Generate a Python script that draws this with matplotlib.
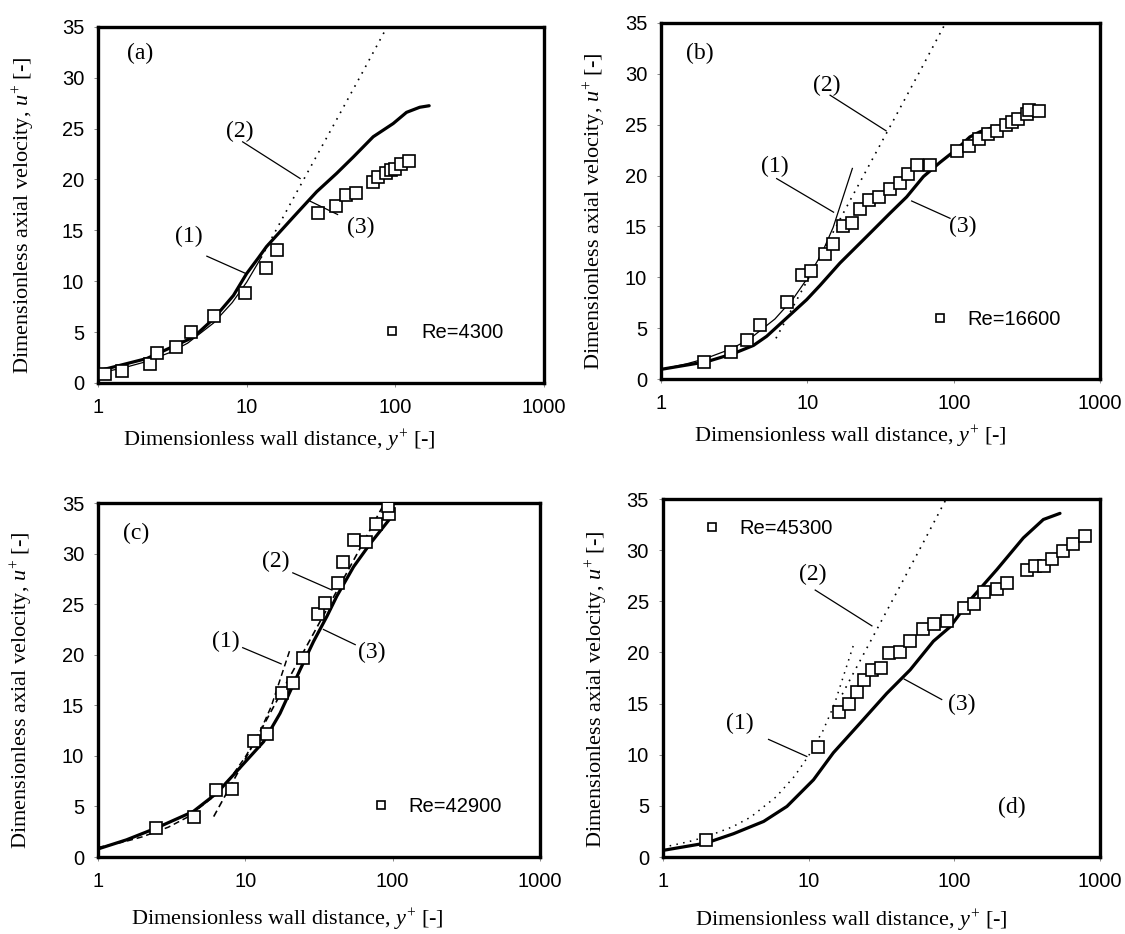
import matplotlib
matplotlib.use('Agg')
import matplotlib.pyplot as plt

plt.rcParams['font.family'] = ['Liberation Sans', 'DejaVu Sans']
plt.rcParams['mathtext.fontset'] = 'custom'
plt.rcParams['mathtext.rm'] = 'Liberation Serif'
plt.rcParams['mathtext.it'] = 'Liberation Serif:italic'

SERIF = 'Liberation Serif'

x_ticks = [1, 10, 100, 1000]
x_tick_labels = ['1', '10', '100', '1000']
y_ticks = [0, 5, 10, 15, 20, 25, 30, 35]

# (1) viscous sublayer
visc_y = [1, 1.5, 2, 3, 4, 6, 8, 10, 12.5, 15, 20.3]
visc_u = [0.95, 1.5, 2.0, 2.95, 3.9, 5.9, 7.9, 9.9, 12.3, 14.9, 20.7]

# (2) log-law line (straight on the semilog axes)
loglaw_y = [6.1, 10, 12.5, 17, 20, 40, 60, 88]
loglaw_u = [4.0, 9.7, 12.3, 15.9, 17.8, 25.8, 30.5, 35.0]

# (a) Re=4300
a_exp_y = [1.11, 1.45, 2.25, 2.49, 3.36, 4.24, 6.05, 9.81, 13.4, 16.0, 30.0, 39.9,
           46.5, 54.3, 70.3, 76.8, 86.3, 94.3, 99.3, 110, 123]
a_exp_u = [0.92, 1.18, 1.9, 2.9, 3.54, 5.0, 6.56, 8.89, 11.25, 13.05, 16.66, 17.4,
           18.5, 18.7, 19.8, 20.26, 20.6, 20.9, 21.0, 21.5, 21.8]
a_sim_y = [1, 2.13, 4.39, 5.98, 8.15, 10, 12, 13.6, 20.6, 29.6, 40.3, 52.1, 71.0, 96.8, 119, 146, 169]
a_sim_u = [1.18, 2.4, 4.5, 6.3, 8.6, 10.75, 12.3, 13.4, 16.3, 18.8, 20.6, 22.2, 24.2, 25.5, 26.6, 27.1, 27.25]

# (b) Re=16600
b_exp_y = [1.98, 2.99, 3.87, 4.77, 7.3, 9.2, 10.6, 13.1, 14.9, 17.4, 20.3, 23.0, 26.4, 31.0,
           36.9, 43.0, 49.0, 56.5, 68.9, 106, 127, 149, 171, 197, 227, 252, 277, 319, 327, 383]
b_exp_u = [1.70, 2.62, 3.83, 5.30, 7.6, 10.2, 10.6, 12.3, 13.3, 15.0, 15.3, 16.7, 17.6, 17.9,
           18.7, 19.3, 20.2, 21.0, 21.0, 22.4, 22.9, 23.6, 24.1, 24.4, 24.95, 25.3, 25.6, 26.1, 26.4, 26.3]
b_sim_y = [1, 2.05, 3.12, 4.28, 5.27, 7.22, 9.89, 12.2, 16.7, 25.4, 36.7, 47.7, 62.1, 80.7, 105, 129, 151, 197]
b_sim_u = [0.95, 1.7, 2.5, 3.3, 4.2, 6.0, 7.8, 9.2, 11.4, 14.0, 16.3, 17.9, 19.9, 21.3, 22.6, 23.8, 24.3, 24.85]

# (c) Re=42900
c_exp_y = [2.49, 4.50, 6.29, 8.16, 11.4, 14.0, 17.7, 21.2, 24.8, 31.0, 34.8, 42.5, 45.9,
           54.9, 65.9, 77.1, 94.9, 93.0]
c_exp_u = [2.87, 3.96, 6.59, 6.76, 11.5, 12.2, 16.2, 17.2, 19.7, 24.0, 25.1, 27.1, 29.2,
           31.3, 31.15, 32.96, 33.9, 34.7]
c_sim_y = [1, 1.56, 2.49, 4.43, 6.38, 8.28, 13.3, 17.2, 23.5, 29.0, 35.8, 41.8, 54.3, 70.5, 96.4]
c_sim_u = [0.8, 1.7, 2.87, 4.5, 6.3, 8.1, 11.4, 14.2, 18.5, 21.3, 23.8, 25.8, 28.7, 31.0, 33.5]

# (d) Re=45300
d_exp_y = [1.98, 11.6, 16.2, 18.8, 21.6, 24.1, 27.3, 31.5, 35.9, 42.5, 49.7, 61.1, 73.1,
           88.8, 117, 137, 161, 198, 229, 318, 358, 415, 471, 561, 656, 789]
d_exp_u = [1.69, 10.8, 14.2, 15.0, 16.1, 17.3, 18.3, 18.5, 19.9, 20.0, 21.1, 22.3, 22.8,
           23.1, 24.3, 24.7, 25.9, 26.2, 26.8, 28.1, 28.5, 28.5, 29.1, 29.9, 30.6, 31.4]
d_sim_y = [1, 1.98, 3.05, 4.91, 7.1, 10.8, 14.8, 22.6, 34.4, 49.8, 71.9, 93.6, 128, 196, 298, 409, 532]
d_sim_u = [0.65, 1.37, 2.28, 3.48, 4.95, 7.55, 10.2, 13.1, 16.0, 18.3, 21.1, 22.5, 25.1, 28.1, 31.2, 33.0, 33.6]

DOT = (0, (1, 3.5))
DASH = (0, (4, 2.5))


def setup_axes(ax, xlab_xy, ylab_x):
    ax.set_xscale('log')
    ax.set_xlim(1, 1000)
    ax.set_ylim(0, 35)
    ax.set_xticks(x_ticks)
    ax.set_xticklabels(x_tick_labels)
    ax.xaxis.set_minor_locator(matplotlib.ticker.NullLocator())
    ax.set_yticks(y_ticks)
    ax.tick_params(axis='both', labelsize=14.5, length=3, width=0.6, color='#777777')
    ax.tick_params(axis='x', pad=8)
    ax.tick_params(axis='y', pad=7)
    for sp in ax.spines.values():
        sp.set_linewidth(2.4)
    ax.set_xlabel('Dimensionless wall distance, $y^{+}$ [-]', family=SERIF, fontsize=16)
    ax.set_ylabel('Dimensionless axial velocity, $u^{+}$ [-]', family=SERIF, fontsize=16)
    ax.xaxis.set_label_coords(*xlab_xy)
    ax.yaxis.set_label_coords(ylab_x, 0.47)


def pointer(ax, label, text_xy, start, end):
    ax.text(text_xy[0], text_xy[1], label, family=SERIF, fontsize=17, ha='center', va='center')
    ax.plot([start[0], end[0]], [start[1], end[1]], color='black', lw=0.9)


def draw_panel(ax, exp_y, exp_u, sim_y, sim_u, visc_n, law_start, style1, style2, re_text, leg_xy, leg_pad):
    lw1 = 0.9 if style1 == '-' else 1.1
    ax.plot(visc_y[:visc_n], visc_u[:visc_n], color='black', lw=lw1, linestyle=style1, zorder=2)
    ax.plot(loglaw_y[law_start:], loglaw_u[law_start:], color='black', lw=1.2, linestyle=style2, zorder=2)
    ax.plot(sim_y, sim_u, color='black', lw=2.3, zorder=3, solid_capstyle='round')
    h, = ax.plot(exp_y, exp_u, linestyle='none', marker='s', markersize=8, markerfacecolor='white',
                 markeredgecolor='black', markeredgewidth=1.2, zorder=4)
    ax.legend([h], [re_text], loc='center left', bbox_to_anchor=leg_xy, frameon=False,
              borderpad=0, borderaxespad=0, handlelength=1.0, handletextpad=leg_pad,
              markerscale=0.8, prop={'family': 'Liberation Sans', 'size': 14.5})


def panel_tag(ax, x, y, tag):
    ax.text(x, y, tag, family=SERIF, fontsize=17, ha='center', va='center')


fig = plt.figure(figsize=(11.25, 9.34), dpi=100)
ax_a = fig.add_axes([0.0871, 0.590, 0.3964, 0.3812])
ax_b = fig.add_axes([0.5876, 0.5942, 0.3902, 0.3812])
ax_c = fig.add_axes([0.0871, 0.0824, 0.3929, 0.3790])
ax_d = fig.add_axes([0.5893, 0.0824, 0.3884, 0.3833])

# (a)
setup_axes(ax_a, (0.407, -0.126), -0.137)
draw_panel(ax_a, a_exp_y, a_exp_u, a_sim_y, a_sim_u, 9, 2, '-', DOT, 'Re=4300', (0.637, 0.141), 0.95)
panel_tag(ax_a, 1.92, 32.4, '(a)')
pointer(ax_a, '(2)', (9.03, 24.7), (9.4, 23.7), (22.9, 20.1))
pointer(ax_a, '(1)', (4.06, 14.4), (5.4, 12.46), (9.9, 10.75))
pointer(ax_a, '(3)', (58.7, 15.3), (40.9, 16.56), (26.7, 17.87))

# (b)
setup_axes(ax_b, (0.43, -0.126), -0.121)
draw_panel(ax_b, b_exp_y, b_exp_u, b_sim_y, b_sim_u, 11, 0, '-', DOT, 'Re=16600', (0.613, 0.166), 0.85)
panel_tag(ax_b, 1.85, 32.0, '(b)')
pointer(ax_b, '(2)', (13.6, 28.9), (14.3, 27.9), (34.5, 24.4))
pointer(ax_b, '(1)', (5.95, 20.9), (6.17, 19.7), (15.1, 16.4))
pointer(ax_b, '(3)', (116, 15.0), (94.4, 15.8), (51.6, 17.5))

# (c)
setup_axes(ax_c, (0.428, -0.141), -0.143)
draw_panel(ax_c, c_exp_y, c_exp_u, c_sim_y, c_sim_u, 11, 0, DASH, DASH, 'Re=42900', (0.618, 0.142), 0.85)
panel_tag(ax_c, 1.82, 32.0, '(c)')
pointer(ax_c, '(2)', (16.2, 29.2), (21.0, 28.1), (38.7, 26.4))
pointer(ax_c, '(1)', (7.35, 21.3), (9.6, 20.7), (17.5, 19.1))
pointer(ax_c, '(3)', (72.3, 20.2), (55.7, 21.0), (33.9, 22.5))

# (d)
setup_axes(ax_d, (0.432, -0.141), -0.121)
draw_panel(ax_d, d_exp_y, d_exp_u, d_sim_y, d_sim_u, 11, 3, DOT, DOT, 'Re=45300', (0.090, 0.918), 0.85)
panel_tag(ax_d, 248, 4.8, '(d)')
pointer(ax_d, '(2)', (10.6, 27.6), (11.1, 26.1), (27.2, 22.6))
pointer(ax_d, '(1)', (3.39, 13.1), (5.31, 11.5), (9.72, 9.83))
pointer(ax_d, '(3)', (112, 14.9), (82.0, 15.4), (45.3, 17.4))

fig.savefig('out.png', dpi=100)
